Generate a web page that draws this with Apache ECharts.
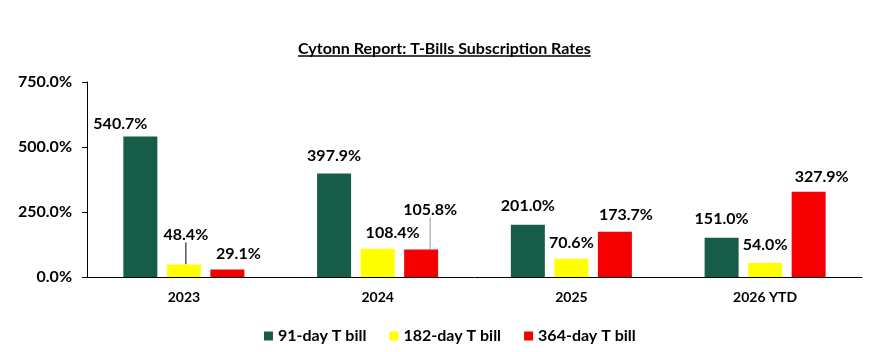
<!DOCTYPE html>
<html>
<head>
<meta charset="utf-8">
<script src="https://cdn.jsdelivr.net/npm/echarts@6/dist/echarts.min.js"></script>
<style>
  html, body { margin: 0; padding: 0; background: #fff; }
  #chart { width: 872px; height: 352px; }
</style>
</head>
<body>
<div id="chart"></div>
<script>
// 数据
var years = ['2023', '2024', '2025', '2026 YTD'];
var seriesNames = ['91-day T bill', '182-day T bill', '364-day T bill'];
var bill91 = [540.7, 397.9, 201.0, 151.0];
var bill182 = [48.4, 108.4, 70.6, 54.0];
var bill364 = [29.1, 105.8, 173.7, 327.9];

// 标签偏移 [dx, dy]，带引线的标签单独标记
var labelShift = [
    [[-20, 0], [0, -5], [0, -6], [0, -6]],
    [[2, -17], [15, -3], [0, -3], [0, -5]],
    [[11, -3], [9, -27], [11, -4], [13, -2]]
];
var leaderLine = [
    [false, false, false, false],
    [true, false, false, false],
    [false, true, false, false]
];
var colors = ['#175C49', '#FFFF00', '#F40000'];

var font = 'Lato, "Open Sans", sans-serif';
var titleText = 'Cytonn Report: T-Bills Subscription Rates';
var titleSize = 16;

// 计算标题宽度，用于画下划线
var ctx = document.createElement('canvas').getContext('2d');
ctx.font = 'bold ' + titleSize + 'px Lato';
var titleW = ctx.measureText(titleText).width;
var titleX = Math.round(444.5 - titleW / 2);

var chart = echarts.init(document.getElementById('chart'));

function buildSeries(idx, values) {
    return {
        name: seriesNames[idx],
        type: 'bar',
        barWidth: 34,
        barGap: '28%',
        itemStyle: { color: colors[idx] },
        label: {
            show: true,
            position: 'top',
            distance: 5,
            color: '#000',
            fontFamily: font,
            fontWeight: 'bold',
            fontSize: 16,
            formatter: function (p) { return p.value.toFixed(1) + '%'; }
        },
        labelLine: { show: false },
        labelLayout: function (p) {
            var s = labelShift[idx][p.dataIndex];
            return { dx: s[0], dy: s[1] };
        },
        data: values.map(function (v, i) {
            var item = { value: v };
            if (leaderLine[idx][i]) {
                item.labelLine = { show: true, lineStyle: { color: idx == 1 ? '#000' : '#999', width: 1 } };
            }
            return item;
        })
    };
}

var option = {
    animation: false,
    title: {
        text: titleText,
        left: titleX,
        top: 41,
        padding: 0,
        textStyle: { fontFamily: font, fontWeight: 'bold', fontSize: titleSize, color: '#000' }
    },
    graphic: [{
        type: 'line',
        shape: { x1: titleX, y1: 56, x2: titleX + titleW, y2: 56 },
        style: { stroke: '#000', lineWidth: 1.5 }
    }],
    legend: {
        bottom: 3,
        left: 259,
        itemWidth: 9,
        itemHeight: 9,
        itemGap: 23,
        icon: 'rect',
        textStyle: { fontFamily: font, fontWeight: 'bold', fontSize: 16, color: '#000' },
        data: seriesNames
    },
    grid: { left: 87, right: 10, top: 82, bottom: 75 },
    xAxis: {
        type: 'category',
        data: years,
        axisLine: { lineStyle: { color: '#000', width: 1 } },
        axisTick: { show: false },
        axisLabel: { fontFamily: font, fontWeight: 'bold', fontSize: 14, color: '#000', margin: 13 }
    },
    yAxis: {
        type: 'value',
        min: 0,
        max: 750,
        interval: 250,
        axisLine: { show: true, lineStyle: { color: '#000', width: 1 } },
        axisTick: { show: true, length: 5, lineStyle: { color: '#000' } },
        splitLine: { show: false },
        axisLabel: {
            fontFamily: font, fontWeight: 'bold', fontSize: 16, color: '#000', margin: 15,
            formatter: function (v) { return v.toFixed(1) + '%'; }
        }
    },
    series: [
        buildSeries(0, bill91),
        buildSeries(1, bill182),
        buildSeries(2, bill364)
    ]
};

chart.setOption(option);
</script>
</body>
</html>
